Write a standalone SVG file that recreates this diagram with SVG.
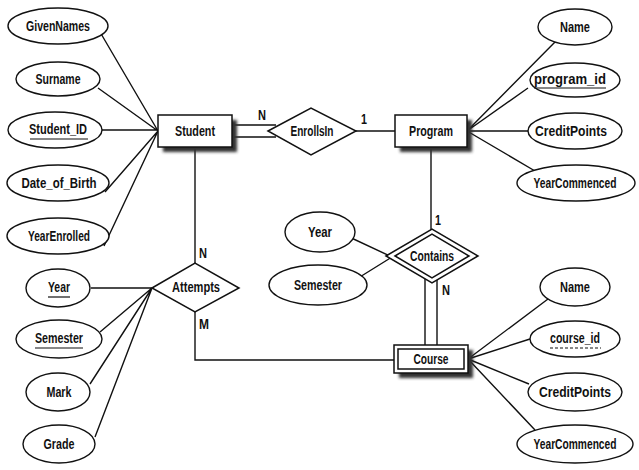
<svg xmlns="http://www.w3.org/2000/svg" width="639" height="470" viewBox="0 0 639 470">
<defs>
<filter id="sh" x="-20%" y="-40%" width="140%" height="180%"><feGaussianBlur stdDeviation="1.5"/></filter>
</defs>
<style>
.e{fill:#fff;stroke:#111;stroke-width:1.4}
.b{fill:#fff;stroke:#111;stroke-width:1.5}
.s{fill:#333;filter:url(#sh)}
.c{fill:none;stroke:#111;stroke-width:1.4}
text{font-family:"Liberation Sans",Arial,sans-serif;font-size:14px;font-weight:bold;fill:#111;text-anchor:middle;dominant-baseline:central}
.u{stroke:#111;stroke-width:1.2}
.d{stroke:#111;stroke-width:1.2;stroke-dasharray:3 2}
</style>
<rect width="639" height="470" fill="#fff"/>
<g id="connectors">
<path class="c" d="M100,32L158,131M98,88L158,131M102,130H158M105,192L158,131M104,246L158,131"/>
<path class="c" d="M232,125H276M232,137H276"/>
<path class="c" d="M355,131H395"/>
<path class="c" d="M555,42L467,131M528,88L467,131M528,131H467M535,171L467,131"/>
<path class="c" d="M431,147V231"/>
<path class="c" d="M345,235L392,257M355,280L392,257"/>
<path class="c" d="M425,278V345M437,278V345"/>
<path class="c" d="M195,147V263"/>
<path class="c" d="M195,312V360H394"/>
<path class="c" d="M91,288H152M100,332L152,288M90,384L152,288M95,437L152,288"/>
<path class="c" d="M548,299L468,359M530,339L468,359M529,384L468,359M535,430L468,359"/>
</g>
<g id="labels">
<text x="262" y="115" textLength="8" lengthAdjust="spacingAndGlyphs">N</text>
<text x="364" y="119" textLength="6" lengthAdjust="spacingAndGlyphs">1</text>
<text x="438" y="220" textLength="6" lengthAdjust="spacingAndGlyphs">1</text>
<text x="446" y="290" textLength="8" lengthAdjust="spacingAndGlyphs">N</text>
<text x="203" y="253" textLength="8" lengthAdjust="spacingAndGlyphs">N</text>
<text x="204" y="324" textLength="10" lengthAdjust="spacingAndGlyphs">M</text>
</g>
<g id="GivenNames"><ellipse class="e" cx="58" cy="26" rx="50" ry="18"/><text x="58" y="26" textLength="64" lengthAdjust="spacingAndGlyphs">GivenNames</text></g>
<g id="Surname"><ellipse class="e" cx="58" cy="79" rx="42" ry="17"/><text x="58" y="79" textLength="45" lengthAdjust="spacingAndGlyphs">Surname</text></g>
<g id="Student_ID"><ellipse class="e" cx="55" cy="130" rx="47" ry="18"/><text x="58" y="129" textLength="58" lengthAdjust="spacingAndGlyphs">Student_ID</text><line class="u" x1="30" y1="139" x2="88" y2="139"/></g>
<g id="Date_of_Birth"><ellipse class="e" cx="58" cy="183" rx="51" ry="18"/><text x="59" y="183" textLength="75" lengthAdjust="spacingAndGlyphs">Date_of_Birth</text></g>
<g id="YearEnrolled"><ellipse class="e" cx="58" cy="236" rx="51" ry="18"/><text x="59" y="236" textLength="62" lengthAdjust="spacingAndGlyphs">YearEnrolled</text></g>
<g id="Student"><rect class="s" x="163" y="120" width="74" height="32"/><rect class="b" x="158" y="115" width="74" height="32"/><text x="195" y="131" textLength="40" lengthAdjust="spacingAndGlyphs">Student</text></g>
<g id="EnrollsIn"><polygon class="b" points="268,131 311,108 356,131 311,155"/><text x="312" y="131" textLength="43" lengthAdjust="spacingAndGlyphs">EnrollsIn</text></g>
<g id="Program"><rect class="s" x="400" y="120" width="72" height="32"/><rect class="b" x="395" y="115" width="72" height="32"/><text x="431" y="131" textLength="44" lengthAdjust="spacingAndGlyphs">Program</text></g>
<g id="Name1"><ellipse class="e" cx="575" cy="27" rx="37" ry="18"/><text x="575" y="27" textLength="30" lengthAdjust="spacingAndGlyphs">Name</text></g>
<g id="program_id"><ellipse class="e" cx="575" cy="80" rx="45" ry="17"/><text x="570" y="79" textLength="72" lengthAdjust="spacingAndGlyphs">program_id</text><line class="u" x1="534" y1="88" x2="606" y2="88"/></g>
<g id="CreditPoints1"><ellipse class="e" cx="575" cy="131" rx="47" ry="18"/><text x="571" y="131" textLength="72" lengthAdjust="spacingAndGlyphs">CreditPoints</text></g>
<g id="YearCommenced1"><ellipse class="e" cx="576" cy="183" rx="59" ry="18"/><text x="575" y="183" textLength="83" lengthAdjust="spacingAndGlyphs">YearCommenced</text></g>
<g id="Year1"><ellipse class="e" cx="320" cy="232" rx="35" ry="20"/><text x="320" y="232" textLength="24" lengthAdjust="spacingAndGlyphs">Year</text></g>
<g id="Semester1"><ellipse class="e" cx="318" cy="285" rx="49" ry="20"/><text x="318" y="285" textLength="48" lengthAdjust="spacingAndGlyphs">Semester</text></g>
<g id="Contains"><polygon class="b" points="386,256 432,229 478,256 432,283"/><polygon class="b" points="395,256 432,234 469,256 432,278"/><text x="432" y="256" textLength="44" lengthAdjust="spacingAndGlyphs">Contains</text></g>
<g id="Attempts"><polygon class="b" points="152,288 195,263 239,288 195,312"/><text x="196" y="287" textLength="48" lengthAdjust="spacingAndGlyphs">Attempts</text></g>
<g id="Year2"><ellipse class="e" cx="58" cy="288" rx="32" ry="19"/><text x="59" y="287" textLength="22" lengthAdjust="spacingAndGlyphs">Year</text><line class="u" x1="48" y1="297" x2="70" y2="297"/></g>
<g id="Semester2"><ellipse class="e" cx="59" cy="339" rx="43" ry="19"/><text x="59" y="338" textLength="48" lengthAdjust="spacingAndGlyphs">Semester</text><line class="u" x1="35" y1="348" x2="83" y2="348"/></g>
<g id="Mark"><ellipse class="e" cx="58" cy="392" rx="32" ry="19"/><text x="59" y="392" textLength="25" lengthAdjust="spacingAndGlyphs">Mark</text></g>
<g id="Grade"><ellipse class="e" cx="59" cy="444" rx="36" ry="19"/><text x="59" y="444" textLength="31" lengthAdjust="spacingAndGlyphs">Grade</text></g>
<g id="Course"><rect class="s" x="399" y="350" width="74" height="28"/><rect class="b" x="394" y="345" width="74" height="28"/><rect class="b" x="398" y="349" width="66" height="20"/><text x="431" y="359" textLength="35" lengthAdjust="spacingAndGlyphs">Course</text></g>
<g id="Name2"><ellipse class="e" cx="575" cy="287" rx="35" ry="19"/><text x="575" y="287" textLength="30" lengthAdjust="spacingAndGlyphs">Name</text></g>
<g id="course_id"><ellipse class="e" cx="575" cy="339" rx="45" ry="18"/><text x="575" y="338" textLength="50" lengthAdjust="spacingAndGlyphs">course_id</text><line class="d" x1="550" y1="348" x2="601" y2="348"/></g>
<g id="CreditPoints2"><ellipse class="e" cx="575" cy="392" rx="47" ry="19"/><text x="575" y="392" textLength="72" lengthAdjust="spacingAndGlyphs">CreditPoints</text></g>
<g id="YearCommenced2"><ellipse class="e" cx="575" cy="444" rx="58" ry="19"/><text x="575" y="444" textLength="83" lengthAdjust="spacingAndGlyphs">YearCommenced</text></g>
</svg>
